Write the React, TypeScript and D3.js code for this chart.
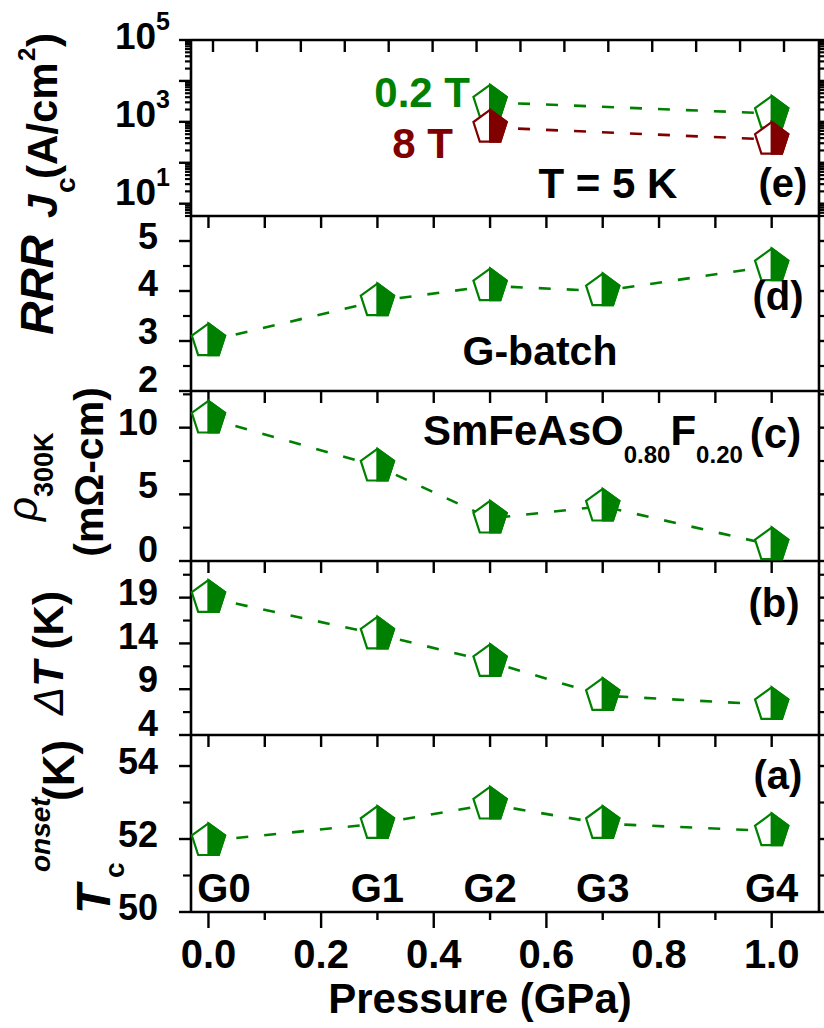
import React from 'react';
import * as d3 from 'd3';

// G-batch samples: synthesis pressure (GPa) and sample names
const pressure = [0, 0.3, 0.5, 0.7, 1.0];
const sampleNames = ['G0', 'G1', 'G2', 'G3', 'G4'];

// (a) onset Tc (K)
const tcOnset = [51.95, 52.42, 52.95, 52.42, 52.22];
// (b) transition width (K)
const deltaT = [19.0, 15.0, 12.0, 8.3, 7.3];
// (c) resistivity at 300 K (mOhm-cm)
const rho300K = [10.7, 7.1, 3.2, 4.1, 1.2];
// (d) residual resistivity ratio
const rrr = [3.0, 3.8, 4.1, 4.0, 4.5];
// (e) critical current density at 5 K (A/cm^2)
const jcPressure = [0.5, 1.0];
const jcLowField = [3000, 1600]; // 0.2 T
const jcHighField = [730, 370]; // 8 T

const xTickValues = [0, 0.2, 0.4, 0.6, 0.8, 1.0];
const jcLabelValues = [10, 1000, 100000];

const GREEN = '#008000';
const DARK_RED = '#800000';
const FONT = "'Liberation Sans', Arial, Helvetica, sans-serif";

const W = 824;
const H = 1028;
const LEFT = 191;
const RIGHT = 819;
// panel boundaries from top: (e) | (d) | (c) | (b) | (a)
const EDGES = [40, 216, 391, 561, 735, 912];

const x = d3.scaleLinear().domain([-0.031, 1.084]).range([LEFT, RIGHT]);
// the top frame of panel (e) carries its own tick spacing
const xTopE = d3.scaleLinear().domain([0, 1.3]).range([213, 784]);

type Panel = {
  id: string;
  top: number;
  bottom: number;
  scale: any;
  majors: number[];
  minors: number[];
  labels: number[];
  log?: boolean;
};

const yE = d3.scaleLog().domain([5, 1e5]).range([EDGES[1], EDGES[0]]);
const yD = d3.scaleLinear().domain([2, 5.5]).range([EDGES[2], EDGES[1]]);
const yC = d3.scaleLinear().domain([0, 12.75]).range([EDGES[3], EDGES[2]]);
const yB = d3.scaleLinear().domain([4, 23]).range([EDGES[4], EDGES[3]]);
const yA = d3.scaleLinear().domain([50, 54.85]).range([EDGES[5], EDGES[4]]);

const logTicks: number[] = yE.ticks();
const isDecade = (v: number) => Math.abs(Math.log10(v) - Math.round(Math.log10(v))) < 1e-9;

const panels: Panel[] = [
  {
    id: 'e', top: EDGES[0], bottom: EDGES[1], scale: yE, log: true,
    majors: logTicks.filter(isDecade),
    minors: logTicks.filter((v) => !isDecade(v)),
    labels: jcLabelValues,
  },
  {
    id: 'd', top: EDGES[1], bottom: EDGES[2], scale: yD,
    majors: d3.range(2, 5.51, 1), minors: d3.range(2.5, 5.4, 1), labels: d3.range(2, 5.51, 1),
  },
  {
    id: 'c', top: EDGES[2], bottom: EDGES[3], scale: yC,
    majors: d3.range(0, 12.76, 5), minors: d3.range(2.5, 12.76, 5), labels: d3.range(0, 12.76, 5),
  },
  {
    id: 'b', top: EDGES[3], bottom: EDGES[4], scale: yB,
    majors: d3.range(4, 23.01, 5), minors: d3.range(6.5, 23, 5), labels: d3.range(4, 23.01, 5),
  },
  {
    id: 'a', top: EDGES[4], bottom: EDGES[5], scale: yA,
    majors: [50, 52, 54], minors: [51, 53], labels: [50, 52, 54],
  },
];

// tick labels sit slightly above their ticks, more so near a panel's lower edge
function labelShift(p: Panel, ty: number) {
  if (p.id === 'a') return -5;
  return -4 - 8 * ((ty - p.top) / (p.bottom - p.top));
}

function Pentagon({ cx, cy, color }: { cx: number; cy: number; color: string }) {
  const r = 17.5;
  const pts = d3.range(5).map((i) => {
    const a = -Math.PI / 2 + (i * 2 * Math.PI) / 5;
    return [cx + r * Math.cos(a), cy + r * Math.sin(a)];
  });
  const half = [pts[0], pts[1], pts[2], [cx, pts[2][1]]];
  return (
    <g>
      <polygon points={pts.map((p) => p.join(',')).join(' ')} fill="#fff" stroke={color} strokeWidth={2.2} />
      <polygon points={half.map((p) => p.join(',')).join(' ')} fill={color} stroke={color} strokeWidth={2.2} />
    </g>
  );
}

function Series({ xs, ys, yScale, color }: { xs: number[]; ys: number[]; yScale: any; color: string }) {
  const line = d3
    .line<number>()
    .x((_, i) => x(xs[i]))
    .y((d) => yScale(d));
  return (
    <g>
      <path d={line(ys) || ''} fill="none" stroke={color} strokeWidth={2.6} strokeDasharray="12 16" />
      {ys.map((v, i) => (
        <Pentagon key={i} cx={x(xs[i])} cy={yScale(v)} color={color} />
      ))}
    </g>
  );
}

function VText({
  x: px, y: py, size, anchor = 'start', italic = false, weight = 'bold', children,
}: { x: number; y: number; size: number; anchor?: string; italic?: boolean; weight?: string; children: any }) {
  return (
    <text
      transform={`translate(${px},${py}) rotate(-90)`}
      textAnchor={anchor}
      fontSize={size}
      fontStyle={italic ? 'italic' : 'normal'}
      fontWeight={weight}
      fontFamily={FONT}
      fill="#000"
    >
      {children}
    </text>
  );
}

export default function App() {
  const fmtX = d3.format('.1f');
  const xMinorTicks = d3.range(0, 1.001, 0.1);
  const labelSize = 36;

  return (
    <svg
      width={W}
      height={H}
      viewBox={`0 0 ${W} ${H}`}
      style={{ position: 'absolute', left: 0, top: 0, background: '#fff' }}
      fontFamily={FONT}
      fontWeight="bold"
    >
      <rect x={0} y={0} width={W} height={H} fill="#fff" />

      {/* y ticks on both sides, tick labels on the left */}
      {panels.map((p) => (
        <g key={p.id}>
          {p.majors.map((v) => (
            <g key={'M' + v}>
              <line x1={LEFT - 12} x2={LEFT} y1={p.scale(v)} y2={p.scale(v)} stroke="#000" strokeWidth={2.4} />
              <line x1={RIGHT} x2={RIGHT + 12} y1={p.scale(v)} y2={p.scale(v)} stroke="#000" strokeWidth={2.4} />
            </g>
          ))}
          {p.minors.map((v) => (
            <g key={'m' + v}>
              <line x1={LEFT - (p.log ? 6 : 8)} x2={LEFT} y1={p.scale(v)} y2={p.scale(v)} stroke="#000" strokeWidth={2.2} />
              <line x1={RIGHT} x2={RIGHT + 6} y1={p.scale(v)} y2={p.scale(v)} stroke="#000" strokeWidth={2.2} />
            </g>
          ))}
          {p.labels.map((v) => {
            const ty = p.scale(v);
            const y = ty + labelShift(p, ty) + 0.358 * labelSize;
            return p.log ? (
              <text key={'L' + v} x={170} y={y} textAnchor="end" fontSize={labelSize + 1}>
                10
                <tspan fontSize={25} dy={-19}>
                  {Math.round(Math.log10(v))}
                </tspan>
              </text>
            ) : (
              <text key={'L' + v} x={158} y={y} textAnchor="end" fontSize={labelSize}>
                {v}
              </text>
            );
          })}
          {/* inward ticks along the top of each panel */}
          {(p.id === 'e' ? d3.range(0, 1.31, 0.1).map((v) => xTopE(v)) : xMinorTicks.map((v) => x(v))).map((px, i) => (
            <line key={'t' + i} x1={px} x2={px} y1={p.top} y2={p.top + 12} stroke="#000" strokeWidth={2.4} />
          ))}
        </g>
      ))}

      {/* frame */}
      {EDGES.map((e) => (
        <line key={e} x1={LEFT} x2={RIGHT} y1={e} y2={e} stroke="#000" strokeWidth={2.6} />
      ))}
      <line x1={LEFT} x2={LEFT} y1={EDGES[0]} y2={EDGES[5]} stroke="#000" strokeWidth={2.6} />
      <line x1={RIGHT} x2={RIGHT} y1={EDGES[0]} y2={EDGES[5]} stroke="#000" strokeWidth={2.6} />

      {/* bottom x axis */}
      {xMinorTicks.map((v, i) => (
        <line key={i} x1={x(v)} x2={x(v)} y1={EDGES[5]} y2={EDGES[5] + (i % 2 === 0 ? 16 : 8)} stroke="#000" strokeWidth={2.4} />
      ))}
      {xTickValues.map((v) => (
        <text key={v} x={x(v)} y={968} textAnchor="middle" fontSize={40}>
          {fmtX(v)}
        </text>
      ))}
      <text x={480} y={1013} textAnchor="middle" fontSize={42}>
        Pressure (GPa)
      </text>

      {/* data */}
      <Series xs={pressure} ys={rrr} yScale={yD} color={GREEN} />
      <Series xs={pressure} ys={rho300K} yScale={yC} color={GREEN} />
      <Series xs={pressure} ys={deltaT} yScale={yB} color={GREEN} />
      <Series xs={pressure} ys={tcOnset} yScale={yA} color={GREEN} />
      <Series xs={jcPressure} ys={jcLowField} yScale={yE} color={GREEN} />
      <Series xs={jcPressure} ys={jcHighField} yScale={yE} color={DARK_RED} />

      {/* annotations inside panels */}
      <text x={470} y={107} textAnchor="end" fontSize={42} fill={GREEN}>0.2 T</text>
      <text x={453} y={158} textAnchor="end" fontSize={42} fill={DARK_RED}>8 T</text>
      <text x={608} y={198} textAnchor="middle" fontSize={42}>T = 5 K</text>
      <text x={783} y={197} textAnchor="middle" fontSize={40}>(e)</text>
      <text x={778} y={310} textAnchor="middle" fontSize={40}>(d)</text>
      <text x={540} y={365} textAnchor="middle" fontSize={41}>G-batch</text>
      <text x={423} y={445} fontSize={42}>
        SmFeAsO
        <tspan fontSize={24} dy={18}>0.80</tspan>
        <tspan dy={-18}>F</tspan>
        <tspan fontSize={24} dy={18}>0.20</tspan>
        <tspan dx={7} dy={-15}>(c)</tspan>
      </text>
      <text x={774} y={617} textAnchor="middle" fontSize={40}>(b)</text>
      <text x={778} y={789} textAnchor="middle" fontSize={40}>(a)</text>
      {sampleNames.map((n, i) => (
        <text key={n} x={Math.max(x(pressure[i]), LEFT + 33)} y={902} textAnchor="middle" fontSize={40}>
          {n}
        </text>
      ))}

      {/* y axis titles */}
      <VText x={57} y={218} size={42} italic>J</VText>
      <VText x={75} y={193} size={28}>c</VText>
      <VText x={57} y={179} size={42}>(A/cm</VText>
      <VText x={35} y={61} size={24}>2</VText>
      <VText x={57} y={47} size={42}>)</VText>

      <VText x={53} y={285} size={46} anchor="middle" italic>RRR</VText>

      <VText x={37} y={521} size={42} italic weight="normal">ρ</VText>
      <VText x={53} y={497} size={27}>300K</VText>
      <VText x={103} y={472} size={41} anchor="middle">(mΩ-cm)</VText>

      <VText x={63} y={653} size={42} anchor="middle">
        <tspan fontStyle="italic" fontWeight="normal">Δ</tspan>
        <tspan fontStyle="italic">T</tspan> (K)
      </VText>

      <VText x={110} y={914} size={48} italic>T</VText>
      <VText x={124} y={878} size={28}>c</VText>
      <VText x={50} y={872} size={28} italic>onset</VText>
      <VText x={74} y={801} size={44}>(K)</VText>
    </svg>
  );
}
